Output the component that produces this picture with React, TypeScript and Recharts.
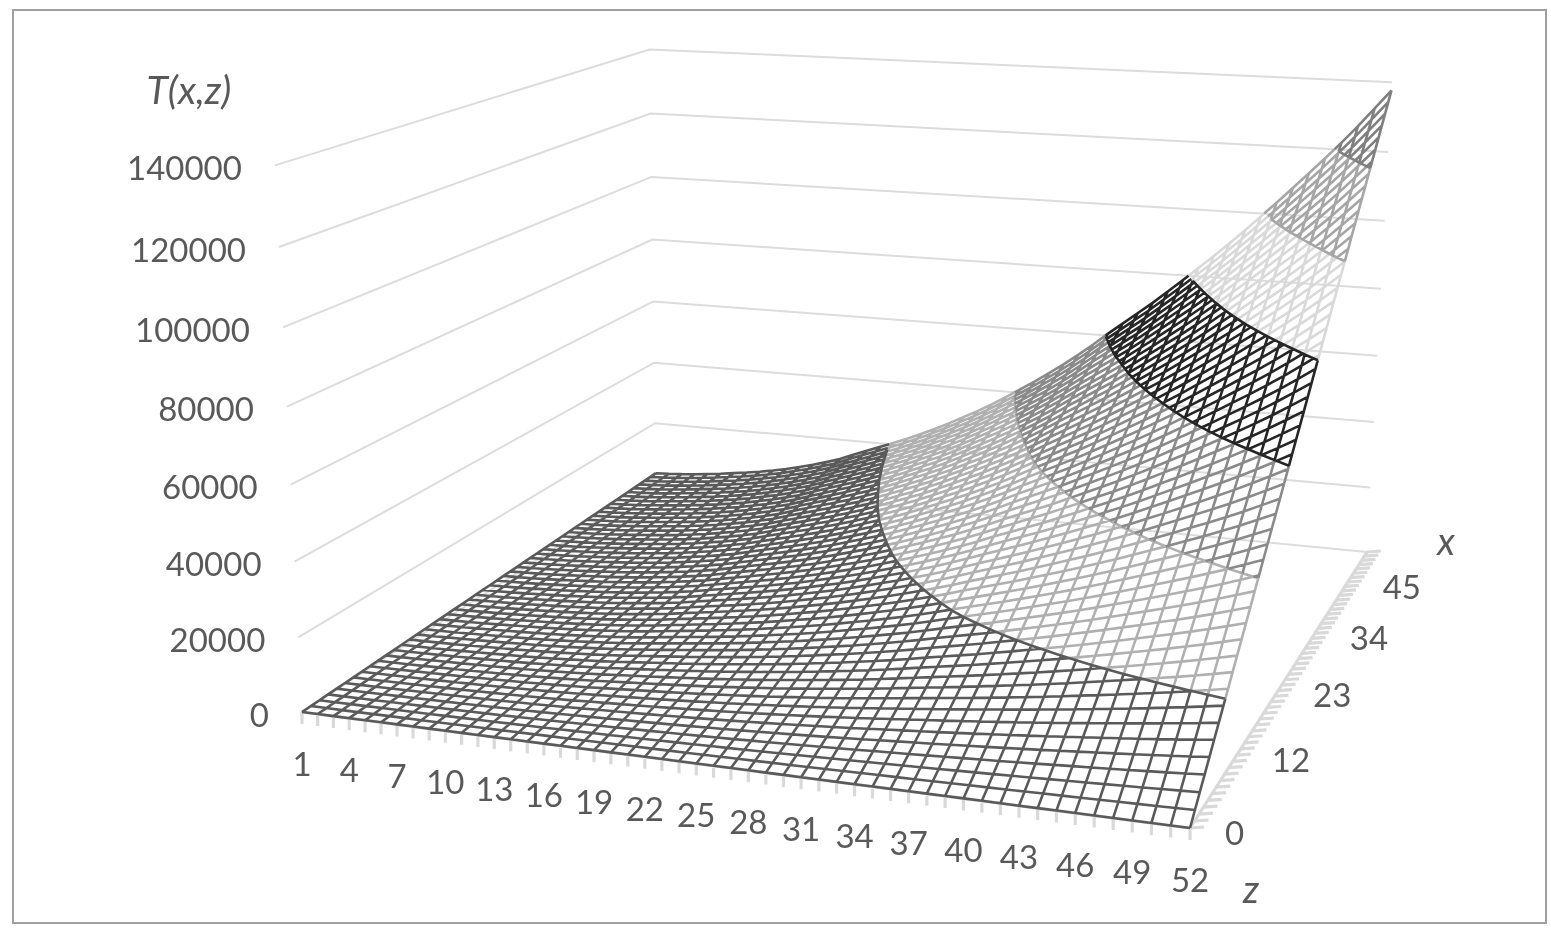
import React from 'react';
import { ComposedChart, Line, XAxis, YAxis, ReferenceDot } from 'recharts';

const W = 1551;
const H = 934;

// Height tick labels on the wall
const tTicks = [0, 20000, 40000, 60000, 80000, 100000, 120000, 140000];

// z categories 1..52 that carry a label
const zLabelled = [1, 4, 7, 10, 13, 16, 19, 22, 25, 28, 31, 34, 37, 40, 43, 46, 49, 52];

// series labels: index of the series on the depth axis and its text
const xLabelIndex = [0, 11, 22, 33, 44];
const xLabelText = ['0', '12', '23', '34', '45'];

// T along the far edge (last x series), one value per z = 1..52
const tAtFarX = [
  3300, 3500, 3800, 4200, 4700, 5200, 5800, 6400, 7100, 7900,
  8800, 9900, 11000, 12300, 13700, 15500, 17200, 18900, 20600, 22400,
  24300, 26300, 28500, 30800, 33100, 35600, 38300, 41100, 43900, 46900,
  50000, 53300, 56800, 60500, 64000, 67500, 71000, 74800, 78600, 82500,
  86400, 90500, 94700, 99100, 103500, 108000, 112600, 117200, 122000, 127000,
  132300, 137700,
];

// T along the z = 52 edge, one value per x series
const tAtLastZ = [
  0, 2700, 5400, 8100, 10800, 13500, 16200, 18900, 21600, 24300,
  27000, 29700, 32400, 35100, 37800, 40500, 43200, 45900, 48600, 51300,
  54000, 56700, 59400, 62100, 64800, 67500, 70200, 72900, 75600, 78300,
  81000, 83700, 86400, 89100, 91800, 94500, 97200, 99900, 102600, 105300,
  108000, 110700, 113400, 116100, 118800, 121500, 124200, 126900, 129600, 132300,
  135000, 137700,
];

const PEAK = 137700;
const BAND = 20000;
const bandColors = ['#5a5a5a', '#b0b0b0', '#8a8a8a', '#262626', '#d9d9d9', '#a6a6a6', '#808080'];
// light bands first, so that dark contours stay on top
const bandOrder = [4, 1, 5, 2, 6, 0, 3];
// band whose colour strokes the border at 20000, 40000, ... 120000
const contourBand = [0, 1, 3, 3, 5, 6];

const nz = tAtFarX.length;
const nx = tAtLastZ.length;
const surface = (iz: number, ix: number) => (tAtFarX[iz] * tAtLastZ[ix]) / PEAK;

// perspective of the Excel 3D box, fitted on its corners
const project = (u: number, v: number, t: number) => {
  const h = t / 140000;
  const w = 1 - 0.1017 * u + 0.2743 * v - 0.0505 * h;
  return {
    sx: (302 + 767 * u + 533.9 * v - 41 * h) / w,
    sy: (712 + 31.8 * u - 96.5 * v - 555 * h) / w,
  };
};

type Row = { sx: number; sy: number | null };
type Node = { u: number; v: number; t: number };

const pushGap = (rows: Row[]) => {
  if (rows.length) rows.push({ sx: rows[rows.length - 1].sx, sy: null });
};

const bandOf = (t: number) => Math.max(0, Math.min(6, Math.floor(t / BAND)));
const bandRows: Row[][] = bandColors.map(() => []);

// walks a mesh line and hands each piece to the band it lies in
const addMeshLine = (nodes: Node[]) => {
  let cur = -1;
  for (let i = 0; i < nodes.length - 1; i++) {
    const a = nodes[i];
    const b = nodes[i + 1];
    const cuts = [0];
    const lo = Math.min(a.t, b.t);
    const hi = Math.max(a.t, b.t);
    for (let l = BAND; l < 140000; l += BAND) {
      if (l > lo && l < hi) cuts.push((l - a.t) / (b.t - a.t));
    }
    cuts.push(1);
    cuts.sort((p, q) => p - q);
    const at = (f: number) =>
      project(a.u + (b.u - a.u) * f, a.v + (b.v - a.v) * f, a.t + (b.t - a.t) * f);
    for (let k = 0; k < cuts.length - 1; k++) {
      const mid = a.t + ((b.t - a.t) * (cuts[k] + cuts[k + 1])) / 2;
      const band = bandOf(mid);
      if (band !== cur) {
        if (cur >= 0) pushGap(bandRows[cur]);
        bandRows[band].push(at(cuts[k]));
        cur = band;
      }
      bandRows[band].push(at(cuts[k + 1]));
    }
  }
  if (cur >= 0) pushGap(bandRows[cur]);
};

for (let iz = 0; iz < nz; iz++) {
  const nodes: Node[] = [];
  for (let ix = 0; ix < nx; ix++) {
    nodes.push({ u: iz / (nz - 1), v: ix / (nx - 1), t: surface(iz, ix) });
  }
  addMeshLine(nodes);
}
for (let ix = 0; ix < nx; ix++) {
  const nodes: Node[] = [];
  for (let iz = 0; iz < nz; iz++) {
    nodes.push({ u: iz / (nz - 1), v: ix / (nx - 1), t: surface(iz, ix) });
  }
  addMeshLine(nodes);
}

// band borders
contourBand.forEach((b, i) => {
  const level = (i + 1) * BAND;
  const rows: Row[] = [];
  for (let iz = 0; iz < nz; iz++) {
    if (tAtFarX[iz] < level) continue;
    rows.push(project(iz / (nz - 1), level / tAtFarX[iz], level));
  }
  bandRows[b].push(...rows);
  pushGap(bandRows[b]);
});

// wall gridlines
const gridRows: Row[] = [];
tTicks.forEach((t) => {
  gridRows.push(project(0, 0, t), project(0, 1, t), project(1, 1, t));
  pushGap(gridRows);
});

// floor axes with their tick marks
const axisRows: Row[] = [project(0, 0, 0), project(1, 0, 0), project(1, 1, 0)];
pushGap(axisRows);
for (let iz = 0; iz < nz; iz++) {
  const p = project(iz / (nz - 1), 0, 0);
  axisRows.push(p, { sx: p.sx, sy: (p.sy as number) + 12 });
  pushGap(axisRows);
}
for (let ix = 0; ix < nx; ix++) {
  const p = project(1, ix / (nx - 1), 0);
  axisRows.push(p, { sx: p.sx + 14, sy: (p.sy as number) - 1 });
  pushGap(axisRows);
}

const textColor = '#595959';

const textDot = (
  key: string,
  x: number,
  y: number,
  value: string,
  position: 'left' | 'right' | 'center',
  offset = 0,
  italic = false,
  fontSize = 33,
) => (
  <ReferenceDot
    key={key}
    x={x}
    y={y}
    r={0}
    fill="none"
    stroke="none"
    label={{
      value,
      position,
      offset,
      fill: textColor,
      fontSize,
      fontStyle: italic ? 'italic' : 'normal',
    }}
  />
);

export default function App() {
  return (
    <div style={{ position: 'absolute', left: 0, top: 0, width: W, height: H, background: '#fff', fontFamily: 'Lato, sans-serif' }}>
      <div style={{ position: 'absolute', left: 12, top: 9, width: 1531, height: 911, border: '2px solid #a0a0a0' }} />
      <div style={{ position: 'absolute', left: 0, top: 0, filter: 'blur(0.6px)' }}>
        <ComposedChart width={W} height={H} margin={{ top: 0, right: 0, bottom: 0, left: 0 }}>
          <XAxis type="number" dataKey="sx" domain={[0, W]} hide allowDataOverflow />
          <YAxis type="number" domain={[0, H]} reversed hide allowDataOverflow width={0} />
          <Line data={gridRows} dataKey="sy" stroke="#dcdcdc" strokeWidth={2} dot={false} isAnimationActive={false} activeDot={false} />
          <Line data={axisRows} dataKey="sy" stroke="#d9d9d9" strokeWidth={3.2} dot={false} isAnimationActive={false} activeDot={false} />
          {bandOrder.map((b) => (
            <Line
              key={b}
              data={bandRows[b]}
              dataKey="sy"
              stroke={bandColors[b]}
              strokeWidth={2.6}
              dot={false}
              isAnimationActive={false}
              activeDot={false}
            />
          ))}
          {tTicks.map((t) => {
            const p = project(0, 0, t);
            return textDot(`t${t}`, p.sx, (p.sy as number) + 3, String(t), 'left', 33);
          })}
          {zLabelled.map((z) => {
            const p = project((z - 1) / (nz - 1), 0, 0);
            return textDot(`z${z}`, p.sx, (p.sy as number) + 52, String(z), 'center');
          })}
          {xLabelIndex.map((ix, i) => {
            const p = project(1, ix / (nx - 1), 0);
            return textDot(`x${ix}`, p.sx, (p.sy as number) + 5, xLabelText[i], 'right', 35);
          })}
          {textDot('title-t', 189, 90, 'T(x,z)', 'center', 0, true, 39)}
          {textDot('title-x', 1446, 542, 'x', 'center', 0, true, 38)}
          {textDot('title-z', 1251, 890, 'z', 'center', 0, true, 38)}
        </ComposedChart>
      </div>
    </div>
  );
}
